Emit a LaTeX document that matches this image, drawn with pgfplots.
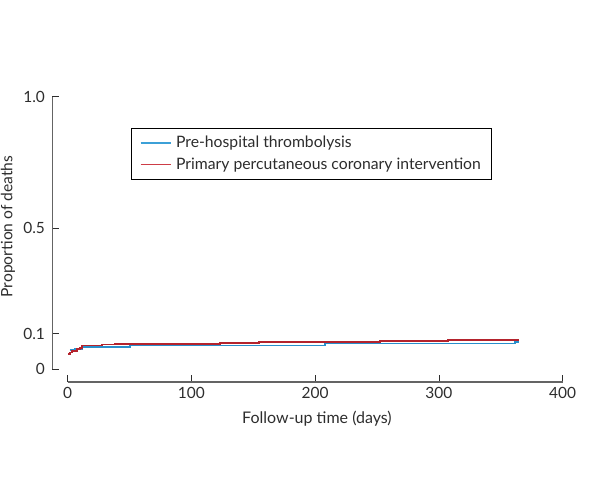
\documentclass[border=0pt]{standalone}
\usepackage{fontspec}
\setmainfont{Lato}
\usepackage{pgfplots}
\pgfplotsset{compat=1.18}
\definecolor{cblue}{RGB}{40,143,204}
\definecolor{cred}{RGB}{180,35,45}
\definecolor{lblue}{RGB}{60,160,215}
\definecolor{lred}{RGB}{205,60,70}
\definecolor{axgray}{RGB}{100,100,100}
\definecolor{txt}{RGB}{45,45,45}
\begin{document}
\begin{tikzpicture}
\useasboundingbox (0,0) rectangle (450pt,364.5pt);
\begin{axis}[
  at={(39.2pt,78pt)}, anchor=south west,
  scale only axis, width=382.8pt, height=214pt,
  xmin=-12.4, xmax=400,
  ymin=-0.0367, ymax=1.0,
  y coord trafo/.code={\pgfmathparse{#1+0.346*min(#1,0.1)}},
  clip=false,
  axis line style={draw=none},
  xtick={0,100,200,300,400},
  ytick={0,0.1,0.5,1.0},
  yticklabels={0,0.1,0.5,1.0},
  xtick pos=bottom, ytick pos=left,
  tick align=inside,
  major tick length=5pt,
  tick style={txt, line width=0.6pt},
  /pgf/number format/assume math mode=true,
  ticklabel style={font=\fontsize{11.6}{13}\selectfont, text=txt},
  xticklabel style={anchor=center, yshift=-8.25pt},
  yticklabel style={anchor=east, xshift=-2pt},
  xlabel={Follow-up time (days)},
  ylabel={Proportion of deaths},
  every axis x label/.style={at={(rel axis cs:0.5186,-0.1297)}, anchor=center, font=\fontsize{12}{13}\selectfont, text=txt},
  every axis y label/.style={at={(rel axis cs:-0.0868,0.545)}, rotate=90, anchor=center, font=\fontsize{11.7}{13}\selectfont, text=txt},
  legend style={at={(rel axis cs:0.1548,0.891)}, anchor=north west, draw=black, line width=0.6pt,
    font=\fontsize{11.8}{13}\selectfont, text=txt, inner xsep=6.3pt, inner ysep=4pt, row sep=2pt,
    cells={anchor=west}},
  legend image code/.code={\draw[#1] (0pt,0pt) -- (22.5pt,0pt); \path (24pt,0pt);},
]
\draw[axgray, line width=1.1pt] (axis cs:0,-0.0367) -- (axis cs:400,-0.0367);
\draw[axgray, line width=0.9pt] (axis cs:-12.4,0) -- (axis cs:-12.4,1.0);
\addlegendimage{draw=lblue, line width=1pt}
\addlegendentry{Pre-hospital thrombolysis}
\addlegendimage{draw=lred, line width=1pt}
\addlegendentry{Primary percutaneous coronary intervention}
\addplot[const plot, cblue, line width=1.4pt, forget plot] coordinates {
(1.9,0.0536) (5.9,0.0556) (11.6,0.0621) (50.3,0.0663) (207.9,0.0720) (361.5,0.0762) (364.7,0.0762)
};
\addplot[const plot, cred, line width=1.4pt, forget plot] coordinates {
(0.3,0.0432) (2,0.0465) (3.5,0.0508) (7.5,0.0556) (10,0.0600) (11.6,0.0663) (27.7,0.0692) (38.2,0.0711) (123,0.0739) (154.6,0.0768) (252.4,0.0796) (307.3,0.0819) (364.7,0.0819)
};
\end{axis}
\end{tikzpicture}
\end{document}
